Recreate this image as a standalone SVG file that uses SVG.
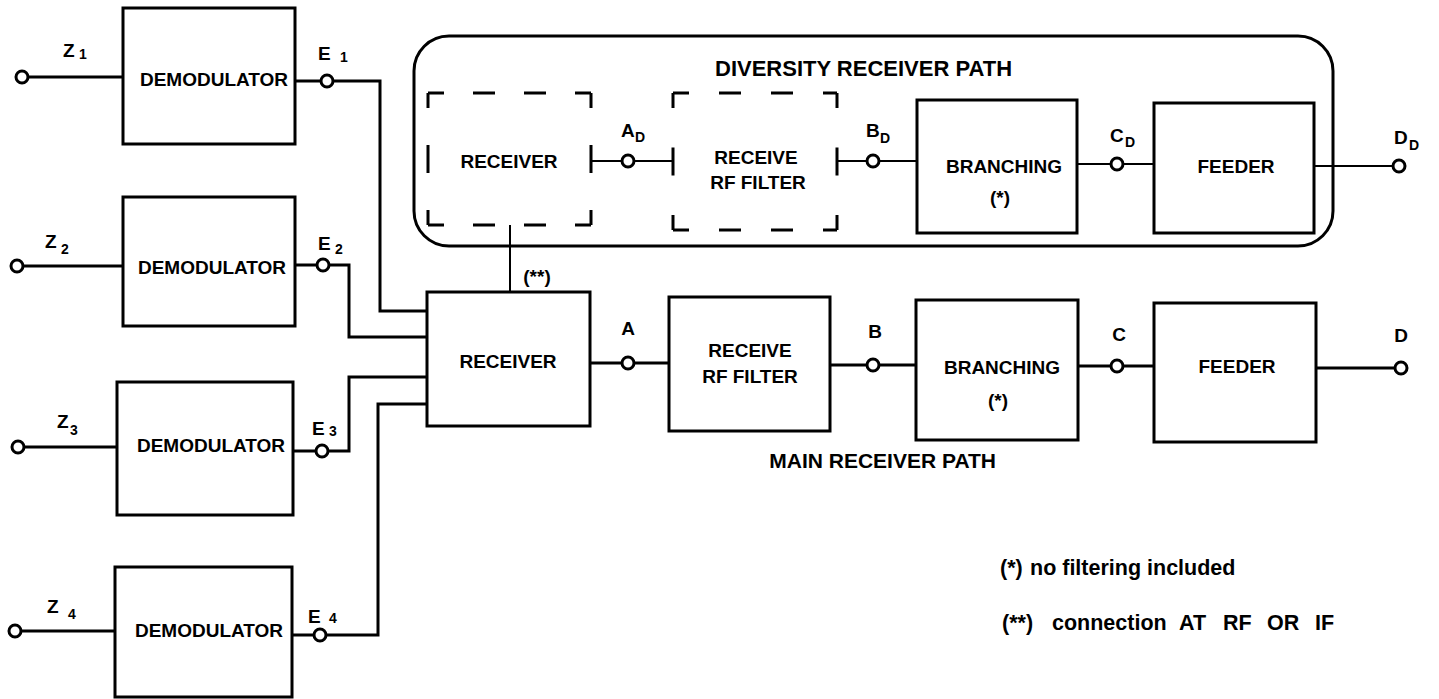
<svg xmlns="http://www.w3.org/2000/svg" width="1439" height="699" viewBox="0 0 1439 699">
<style>
text{font-family:"Liberation Sans",Arial,sans-serif;font-weight:bold;fill:#000}
.lb{font-size:19px;text-anchor:middle}
.tl{font-size:19px}
.sb{font-size:14px}
.nt{font-size:21.5px}
.box{fill:#fff;stroke:#000;stroke-width:3}
.dash{fill:none;stroke:#000;stroke-width:3}
.w{fill:none;stroke:#000;stroke-width:3;stroke-linejoin:miter}
.t{fill:none;stroke:#000;stroke-width:2}
.term{fill:#fff;stroke:#000;stroke-width:3}
</style>
<rect width="1439" height="699" fill="#fff"/>
<g id="diversity-frame">
<rect x="414" y="36" width="919" height="210" rx="35" fill="none" stroke="#000" stroke-width="3"/>
<text x="715" y="76" style="font-size:22px">DIVERSITY RECEIVER PATH</text>
</g>
<g id="connectors">
<path class="w" d="M22 77H123M17 266H123M18 447H117M15 631H115"/>
<path class="w" d="M295 81H380V311H427"/>
<path class="w" d="M295 265H349V337H427"/>
<path class="w" d="M293 451H349V377H427"/>
<path class="w" d="M292 635H378V404H427"/>
<path class="t" d="M510 225V292"/>
<path class="w" d="M590 363H669M830 365H916M1078 366H1154M1316 368H1395"/>
<path class="t" d="M591 161H673M837 161H917M1077 164H1154M1314 166H1393"/>
</g>
<g id="demod1"><rect class="box" x="123" y="8" width="172" height="136"/><text class="lb" x="214" y="86">DEMODULATOR</text></g>
<g id="demod2"><rect class="box" x="123" y="197" width="172" height="129"/><text class="lb" x="212" y="274">DEMODULATOR</text></g>
<g id="demod3"><rect class="box" x="117" y="382" width="176" height="133"/><text class="lb" x="211" y="452">DEMODULATOR</text></g>
<g id="demod4"><rect class="box" x="115" y="567" width="177" height="130"/><text class="lb" x="209" y="637">DEMODULATOR</text></g>
<g id="receiver-main"><rect class="box" x="427" y="292" width="163" height="134"/><text class="lb" x="508" y="368">RECEIVER</text></g>
<g id="rf-filter-main"><rect class="box" x="669" y="297" width="161" height="134"/><text class="lb" x="750" y="357">RECEIVE</text><text class="lb" x="750" y="383">RF FILTER</text></g>
<g id="branching-main"><rect class="box" x="916" y="300" width="162" height="140"/><text class="lb" x="1002" y="374">BRANCHING</text><text class="lb" x="998" y="407">(*)</text></g>
<g id="feeder-main"><rect class="box" x="1154" y="303" width="162" height="139"/><text class="lb" x="1237" y="373">FEEDER</text></g>
<g id="receiver-div">
<path class="dash" stroke-dasharray="16 29 22 29 22 29 16" d="M428 93H591M428 225H591"/>
<path class="dash" stroke-dasharray="15 37 28 37 15" d="M428 93V225M591 93V225"/>
<text class="lb" x="509" y="168">RECEIVER</text>
</g>
<g id="rf-filter-div">
<path class="dash" stroke-dasharray="16 30 22 30 22 30 16" d="M673 93H837M673 230H837"/>
<path class="dash" stroke-dasharray="15 39.5 28 39.5 15" d="M673 93V230M837 93V230"/>
<text class="lb" x="756" y="164">RECEIVE</text><text class="lb" x="758" y="189">RF FILTER</text>
</g>
<g id="branching-div"><rect class="box" x="917" y="100" width="160" height="133"/><text class="lb" x="1004" y="173">BRANCHING</text><text class="lb" x="1000" y="204">(*)</text></g>
<g id="feeder-div"><rect class="box" x="1154" y="103" width="160" height="130"/><text class="lb" x="1236" y="173">FEEDER</text></g>
<g id="terminals">
<circle class="term" cx="22" cy="77" r="6"/>
<circle class="term" cx="17" cy="266" r="6"/>
<circle class="term" cx="18" cy="447" r="6"/>
<circle class="term" cx="15" cy="631" r="6"/>
<circle class="term" cx="327" cy="81" r="6"/>
<circle class="term" cx="323" cy="265" r="6"/>
<circle class="term" cx="322" cy="451" r="6"/>
<circle class="term" cx="320" cy="635" r="6"/>
<circle class="term" cx="628" cy="363" r="6"/>
<circle class="term" cx="873" cy="365" r="6"/>
<circle class="term" cx="1117" cy="366" r="6"/>
<circle class="term" cx="1401" cy="368" r="6"/>
<circle class="term" cx="628" cy="161" r="6"/>
<circle class="term" cx="873" cy="161" r="6"/>
<circle class="term" cx="1117" cy="164" r="6"/>
<circle class="term" cx="1399" cy="166" r="6"/>
</g>
<g id="labels">
<text class="tl" x="63" y="57">Z</text><text class="sb" x="79" y="59">1</text>
<text class="tl" x="45" y="248">Z</text><text class="sb" x="61" y="254">2</text>
<text class="tl" x="57" y="428">Z</text><text class="sb" x="70" y="435">3</text>
<text class="tl" x="47" y="613">Z</text><text class="sb" x="68" y="619">4</text>
<text class="tl" x="318" y="60">E</text><text class="sb" x="340" y="62">1</text>
<text class="tl" x="318" y="250">E</text><text class="sb" x="335" y="254">2</text>
<text class="tl" x="312" y="435">E</text><text class="sb" x="329" y="436">3</text>
<text class="tl" x="308" y="623">E</text><text class="sb" x="329" y="623">4</text>
<text class="tl" x="621" y="137">A</text><text class="sb" x="635" y="142">D</text>
<text class="tl" x="866" y="137">B</text><text class="sb" x="880" y="143">D</text>
<text class="tl" x="1110" y="142">C</text><text class="sb" x="1125" y="147">D</text>
<text class="tl" x="1394" y="144">D</text><text class="sb" x="1409" y="150">D</text>
<text class="lb" x="628" y="335">A</text>
<text class="lb" x="875" y="338">B</text>
<text class="lb" x="1119" y="341">C</text>
<text class="lb" x="1401" y="342">D</text>
<text class="lb" x="537" y="283">(**)</text>
<text class="tl" x="996" y="468" text-anchor="end" style="font-size:21px">MAIN RECEIVER PATH</text>
</g>
<g id="notes">
<text class="nt" x="1000" y="575">(*)</text><text class="nt" x="1030" y="575">no filtering included</text>
<text class="nt" x="1002" y="630">(**)</text>
<text class="nt" y="630"><tspan x="1052">connection</tspan><tspan x="1179">AT</tspan><tspan x="1223">RF</tspan><tspan x="1267">OR</tspan><tspan x="1315">IF</tspan></text>
</g>
</svg>
